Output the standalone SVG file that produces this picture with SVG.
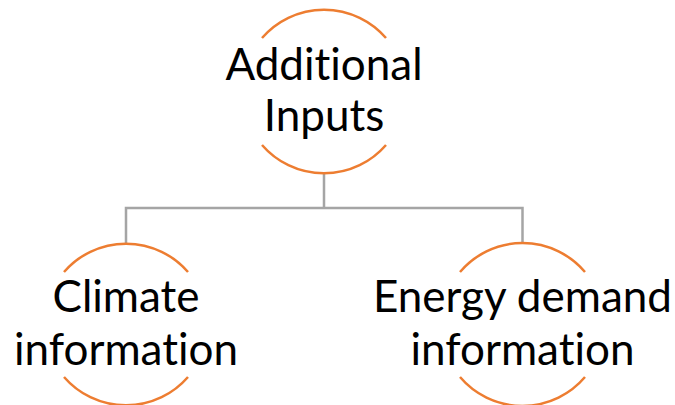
<svg xmlns="http://www.w3.org/2000/svg" width="675" height="405" viewBox="0 0 675 405">
  <style>
    .ring { fill: none; stroke: #ED7D31; stroke-width: 2.5; }
    .link { fill: none; stroke: #A5A5A5; stroke-width: 2.5; }
    .label { font-family: Lato, "Open Sans", "Liberation Sans", sans-serif; font-size: 44px; fill: #000; text-anchor: middle; font-variant-ligatures: none; font-feature-settings: "liga" 0; }
  </style>
  <rect width="675" height="405" fill="#fff"/>

  <!-- connectors -->
  <g id="connectors">
    <path class="link" d="M324,173 V208 M126,243 V208 H522.5 V243"/>
  </g>

  <!-- root node -->
  <g id="node-additional-inputs">
    <path class="ring" d="M262,38 A82,82 0 0 1 386,38 M262,145 A82,82 0 0 0 386,145"/>
    <text class="label" x="324" y="80">Additional</text>
    <text class="label" x="324" y="131">Inputs</text>
  </g>

  <!-- child nodes -->
  <g id="node-climate">
    <path class="ring" d="M64,272 A82,82 0 0 1 188,272 M64,377 A82,82 0 0 0 188,377"/>
    <text class="label" x="126" y="312">Climate</text>
    <text class="label" x="126" y="365">information</text>
  </g>

  <g id="node-energy">
    <path class="ring" d="M460,272 A82,82 0 0 1 585,272 M460,377 A82,82 0 0 0 585,377"/>
    <text class="label" x="522.5" y="312">Energy demand</text>
    <text class="label" x="522.5" y="365">information</text>
  </g>
</svg>
